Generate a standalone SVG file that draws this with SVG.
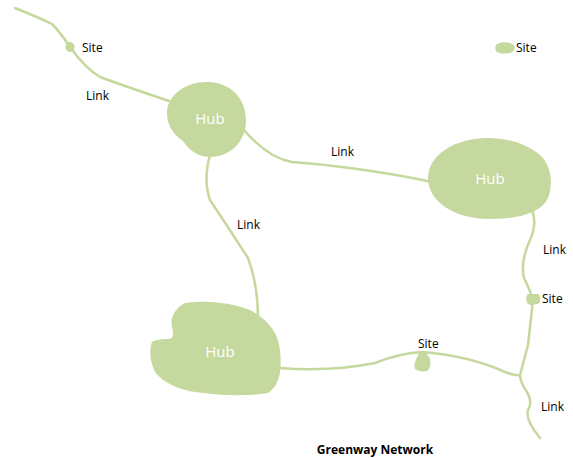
<svg xmlns="http://www.w3.org/2000/svg" width="573" height="458" viewBox="0 0 573 458">
<style>
.ln{fill:none;stroke:#c5d89d;stroke-width:2.5;stroke-linecap:round;stroke-linejoin:round}
.nd{fill:#c5d89d}
.lb{font-family:"Open Sans","Liberation Sans",sans-serif;font-size:12px;fill:#000}
.hb{font-family:"Open Sans","Liberation Sans",sans-serif;font-size:15px;fill:#fff;text-anchor:middle}
.tt{font-family:"Open Sans","Liberation Sans",sans-serif;font-size:12px;font-weight:bold;fill:#000;text-anchor:middle}
</style>
<rect width="573" height="458" fill="#fff"/>
<g id="connectors">
<path class="ln" d="M15,8 Q40,18 52,24 Q60,32 70,47 Q85,68 100,77 Q130,88 172,102"/>
<path class="ln" d="M244,130 Q268,158 292,162 Q320,164 350,168 Q395,174 432,182"/>
<path class="ln" d="M210,155 Q203,180 210,200 Q230,230 248,258 Q258,285 258,318"/>
<path class="ln" d="M531,208 Q538,222 530,240 Q520,262 524,278 Q530,290 533,300 L528,345 L520,375"/>
<path class="ln" d="M280,368 Q330,372 375,363 Q400,353 423,352 Q470,356 505,372 Q515,376 520,375 Q520,382 527,392 Q533,402 528,410 Q525,420 540,438"/>
</g>
<g id="hub1"><path class="nd" d="M207,82 C232,82 246,100 246,120 C246,142 230,157 210,157 C196,157 188,148 183,141 C176,136 167,128 167,113 C167,95 186,82 207,82 Z"/><text class="hb" x="210" y="124">Hub</text></g>
<g id="hub2"><path class="nd" d="M488,138 C510,138 528,145 540,155 C552,166 553,185 548,198 C542,212 520,219 490,219 C452,219 428,200 428,178 C428,155 455,138 488,138 Z"/><text class="hb" x="490" y="184">Hub</text></g>
<g id="hub3"><path class="nd" d="M185,303 C205,300 230,302 250,310 C268,320 278,332 280,350 C282,370 280,385 268,393 C250,396 225,396 205,393 C185,392 165,385 155,372 C150,362 149,350 152,342 C158,338 168,340 172,338 C175,332 170,325 172,318 C175,310 180,305 185,303 Z"/><text class="hb" x="220" y="357">Hub</text></g>
<g id="site1"><ellipse class="nd" cx="70" cy="47" rx="4.5" ry="5"/><text class="lb" x="82" y="52">Site</text></g>
<g id="site2"><path class="nd" d="M497,44 C503,41 510,42 514,45 C516,48 514,52 510,53 C505,54 498,54 496,51 C495,48 495,46 497,44 Z"/><text class="lb" x="516" y="52">Site</text></g>
<g id="site3"><path class="nd" d="M528,294 L538,294 C541,295 541,303 538,304 L530,305 C526,304 525,296 528,294 Z"/><text class="lb" x="542" y="303">Site</text></g>
<g id="site4"><path class="nd" d="M420,352 C424,351 428,354 430,359 C431,364 430,370 427,371 C423,372 418,371 415,369 C413,366 416,358 420,352 Z"/><text class="lb" x="418" y="348">Site</text></g>
<g id="labels">
<text class="lb" x="86" y="100">Link</text>
<text class="lb" x="331" y="156">Link</text>
<text class="lb" x="237" y="229">Link</text>
<text class="lb" x="543" y="254">Link</text>
<text class="lb" x="541" y="411">Link</text>
<text class="tt" x="375" y="454">Greenway Network</text>
</g>
</svg>
